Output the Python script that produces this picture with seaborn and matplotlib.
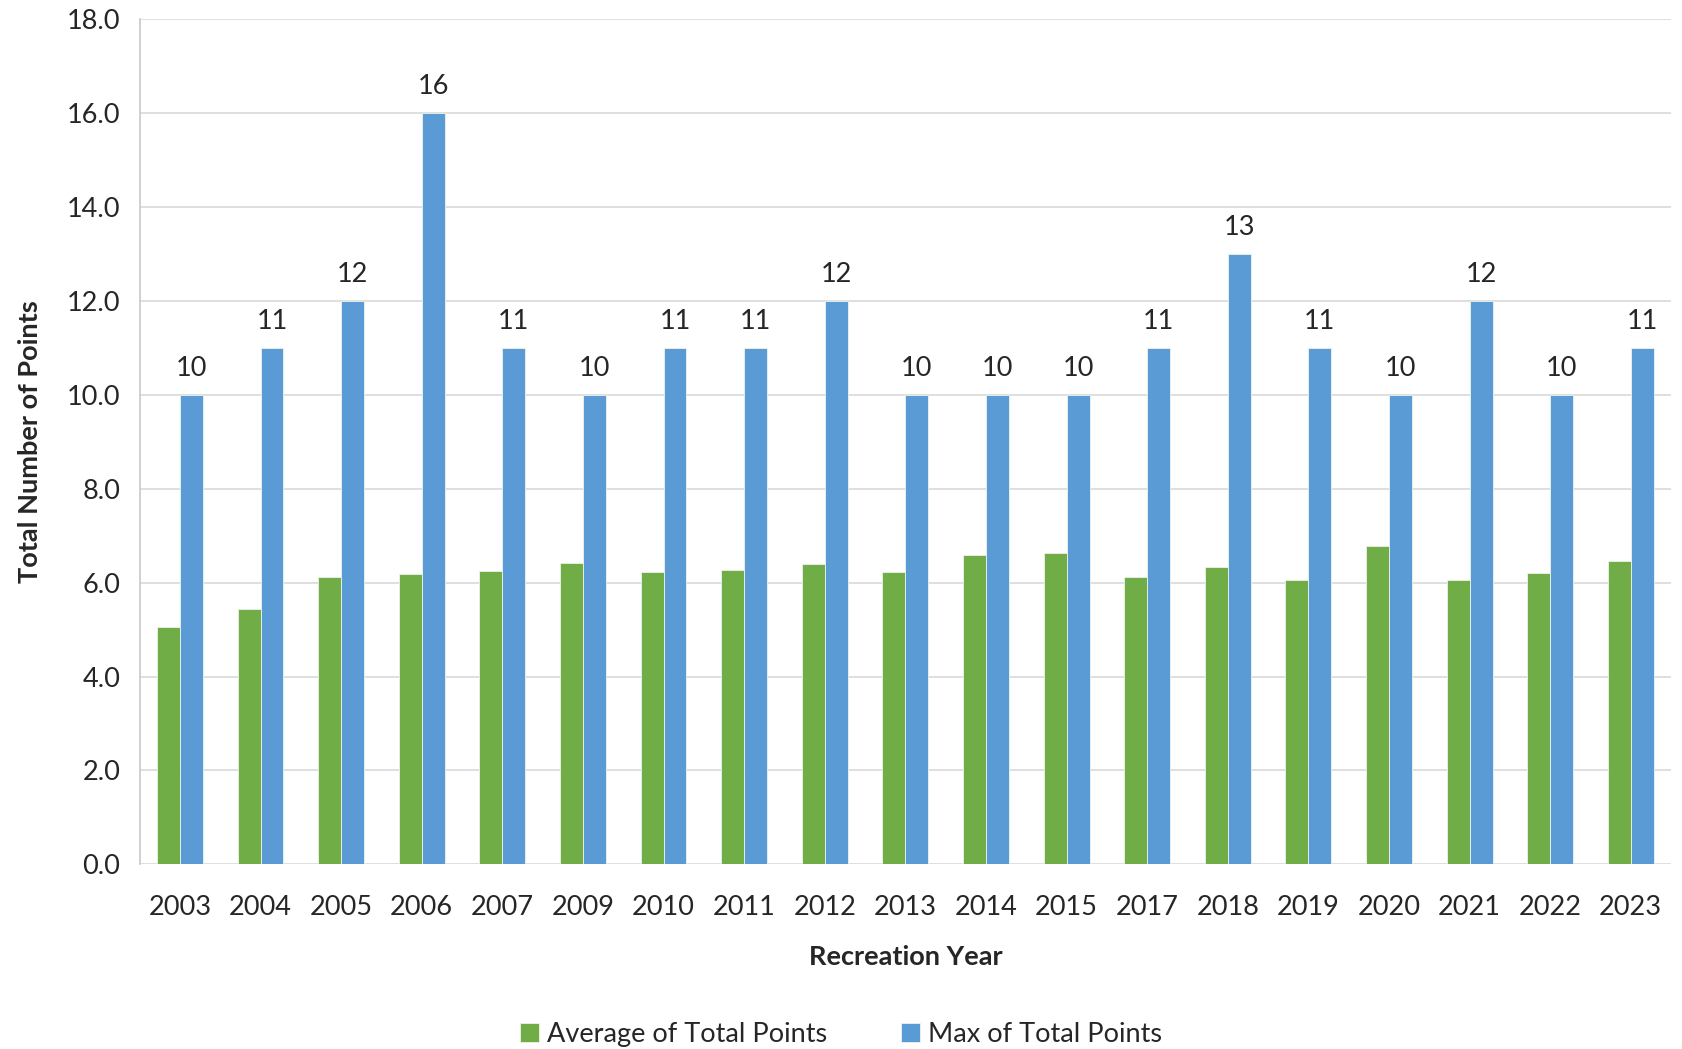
import pandas as pd
import matplotlib.pyplot as plt
import seaborn as sns

# values
years = ["2003", "2004", "2005", "2006", "2007", "2009", "2010", "2011", "2012", "2013",
         "2014", "2015", "2017", "2018", "2019", "2020", "2021", "2022", "2023"]
avg_points = [5.05, 5.45, 6.13, 6.19, 6.25, 6.43, 6.22, 6.28, 6.39, 6.23,
              6.60, 6.64, 6.13, 6.33, 6.06, 6.78, 6.06, 6.21, 6.47]
max_points = [10, 11, 12, 16, 11, 10, 11, 11, 12, 10,
              10, 10, 11, 13, 11, 10, 12, 10, 11]
series = ["Average of Total Points", "Max of Total Points"]
colors = ["#70AD47", "#5B9BD5"]

df = pd.DataFrame({
    "Year": years * 2,
    "Points": avg_points + max_points,
    "Series": [series[0]] * len(years) + [series[1]] * len(years),
})

sns.set_style("white")
plt.rcParams["font.family"] = ["Lato", "DejaVu Sans"]
fs = 19.5

fig = plt.figure(figsize=(16.82, 10.49), dpi=100)
ax = fig.add_axes([0.083, 0.176, 0.9105, 0.8055])

sns.barplot(data=df, x="Year", y="Points", hue="Series", palette=colors,
            saturation=1, width=0.57, edgecolor="#eef4ea", linewidth=0.6,
            ax=ax, legend=True)

ax.set_ylim(0, 18)
ax.set_yticks(range(0, 19, 2))
ax.set_yticklabels([f"{v:.1f}" for v in range(0, 19, 2)])
ax.set_xlim(-0.5, len(years) - 0.5)
ax.yaxis.grid(True, color="#d9d9d9", linewidth=1.2)
ax.set_axisbelow(True)
for s in ["top", "right", "bottom"]:
    ax.spines[s].set_visible(False)
ax.spines["left"].set_color("#c8c8c8")
ax.spines["left"].set_linewidth(1.2)
ax.tick_params(axis="x", length=0, labelsize=fs, pad=22)
ax.tick_params(axis="y", length=0, labelsize=fs, pad=14)

# labels on top of the max bars
ax.bar_label(ax.containers[1], labels=[str(v) for v in max_points],
             fontsize=fs, padding=10)

ax.set_xlabel("Recreation Year", fontsize=fs, fontweight="bold", labelpad=18)
ax.set_ylabel("Total Number of Points", fontsize=fs, fontweight="bold", labelpad=18)

handles, labels = ax.get_legend_handles_labels()
ax.get_legend().remove()
fig.legend(handles, labels, loc="center", bbox_to_anchor=(0.5, 0.014), ncol=2,
           frameon=False, fontsize=fs, handlelength=0.7, handleheight=0.7,
           columnspacing=2.7, handletextpad=0.3, borderaxespad=0)

fig.savefig("out.png", dpi=100)
